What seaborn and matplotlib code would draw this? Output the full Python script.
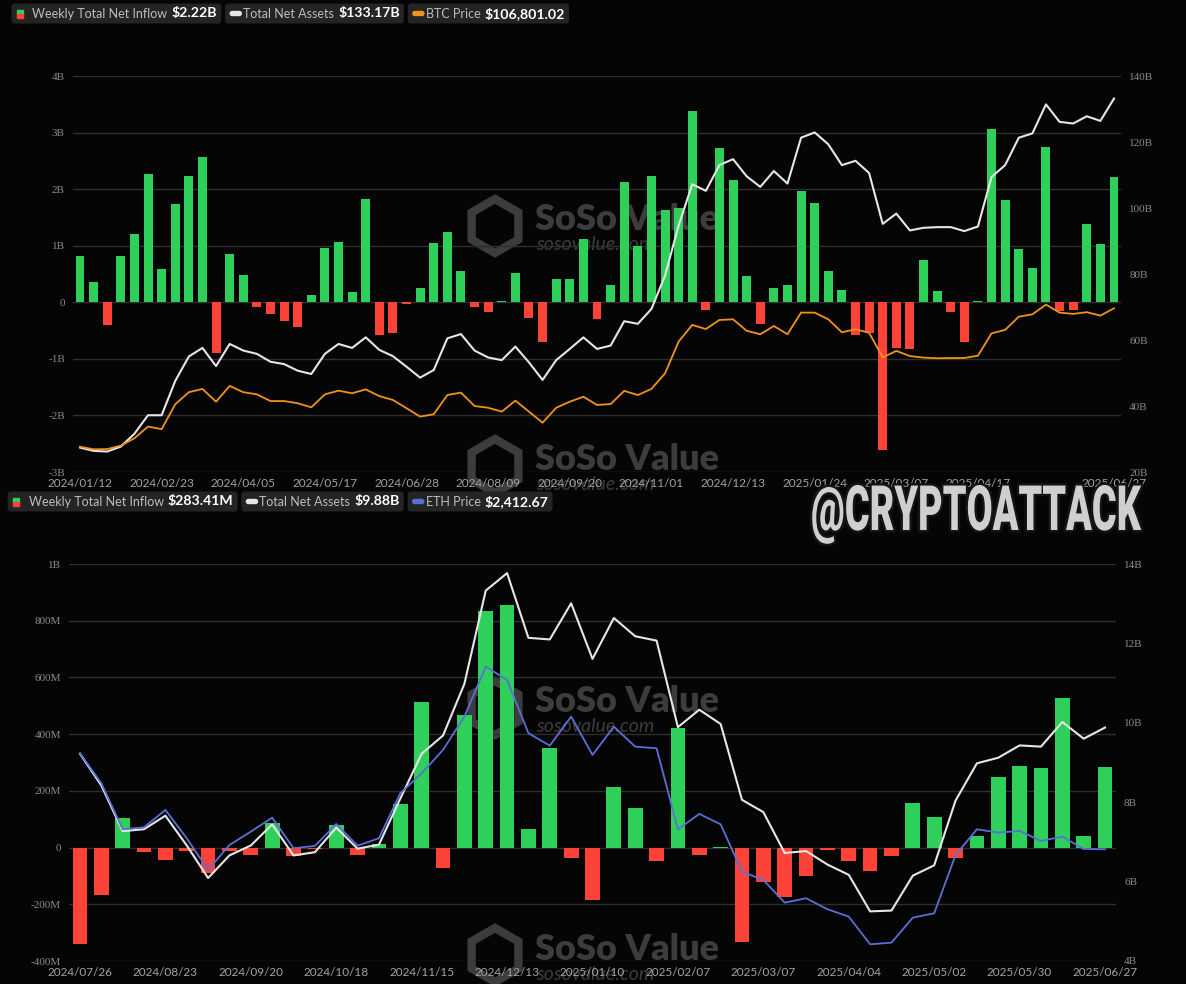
import numpy as np
import pandas as pd
import matplotlib
matplotlib.use("Agg")
import matplotlib.pyplot as plt
import matplotlib.patheffects as pe
from matplotlib.patches import FancyBboxPatch, Rectangle, RegularPolygon
from matplotlib.transforms import IdentityTransform, Affine2D
import seaborn as sns

# ---------------- data ----------------
# BTC spot ETF, weekly (2024/01/12 .. 2025/06/27)
btc_flow = [0.82, 0.35, -0.41, 0.82, 1.20, 2.27, 0.59, 1.73, 2.24, 2.57,
            -0.89, 0.86, 0.49, -0.08, -0.20, -0.33, -0.43, 0.13, 0.96, 1.07,
            0.18, 1.83, -0.58, -0.54, -0.03, 0.25, 1.05, 1.25, 0.55, -0.08,
            -0.17, 0.03, 0.51, -0.27, -0.70, 0.41, 0.41, 1.12, -0.29, 0.31,
            2.13, 1.00, 2.23, 1.63, 1.67, 3.39, -0.14, 2.73, 2.17, 0.46,
            -0.38, 0.25, 0.31, 1.96, 1.76, 0.56, 0.21, -0.58, -0.54, -2.61,
            -0.80, -0.83, 0.75, 0.20, -0.18, -0.70, 0.02, 3.06, 1.80, 0.94,
            0.61, 2.75, -0.16, -0.13, 1.39, 1.03, 2.22]
btc_assets = [27.4, 26.4, 26.2, 27.7, 31.6, 37.2, 37.2, 47.6, 55.0, 57.6,
              52.1, 58.8, 56.8, 55.8, 53.4, 52.7, 50.7, 49.7, 55.8, 58.8,
              57.6, 60.8, 57.0, 55.1, 51.9, 48.6, 50.9, 60.5, 61.8, 56.8,
              54.7, 53.9, 58.0, 53.2, 47.9, 53.9, 57.3, 60.8, 57.3, 58.3,
              65.7, 64.9, 69.4, 79.5, 94.7, 107.2, 105.2, 113.0, 114.8, 109.6,
              106.4, 111.2, 107.4, 121.3, 122.9, 119.3, 113.0, 114.3, 110.6, 95.2,
              98.3, 93.2, 94.0, 94.2, 94.2, 93.0, 94.4, 109.4, 113.0, 121.3,
              122.6, 131.4, 126.1, 125.6, 127.8, 126.4, 133.17]
btc_price = [42800, 41600, 41700, 43300, 46700, 52100, 50900, 62400, 68000, 69500,
             63600, 70900, 68000, 67000, 63900, 63900, 62900, 61000, 67000, 68700,
             67500, 69300, 66200, 64400, 60600, 56700, 57800, 66700, 67800, 61600,
             60800, 59000, 64100, 59000, 53900, 60800, 63600, 65900, 62100, 62500,
             68600, 66700, 69500, 76700, 91400, 99100, 97200, 101400, 101700, 96400,
             94800, 98600, 94800, 104800, 104800, 101700, 95700, 97100, 95500, 84100,
             87100, 84700, 84000, 83700, 83800, 83800, 84900, 95200, 96800, 102900,
             104000, 108500, 104800, 104200, 105000, 103400, 106801.02]

# ETH spot ETF, weekly (2024/07/26 .. 2025/06/27)
eth_flow = [-340, -168, 106, -14, -44, -12, -91, -12, -26, 86,
            -29, -6, 79, -25, 14, 154, 515, -71, 466, 836,
            855, 64, 351, -38, -185, 213, 140, -46, 421, -25,
            2, -334, -120, -176, -102, -8, -49, -81, -31, 156,
            107, -38, 42, 248, 286, 281, 528, 41, 283.41]
eth_assets = [9.22, 8.42, 7.27, 7.32, 7.66, 6.91, 6.09, 6.66, 6.91, 7.44,
              6.66, 6.74, 7.36, 6.83, 6.93, 8.09, 9.22, 9.68, 10.98, 13.33,
              13.77, 12.14, 12.10, 13.01, 11.61, 12.64, 12.18, 12.07, 9.89, 10.33,
              9.97, 8.06, 7.75, 6.72, 6.77, 6.43, 6.17, 5.25, 5.27, 6.15,
              6.41, 8.04, 8.98, 9.12, 9.43, 9.40, 10.02, 9.60, 9.88]
eth_price = [3280, 3009, 2593, 2611, 2768, 2512, 2226, 2451, 2572, 2698,
             2422, 2443, 2641, 2445, 2512, 2919, 3099, 3310, 3611, 4062,
             3942, 3461, 3349, 3611, 3265, 3520, 3340, 3325, 2593, 2732,
             2638, 2210, 2135, 1930, 1970, 1871, 1804, 1554, 1569, 1795,
             1834, 2361, 2593, 2563, 2578, 2488, 2527, 2415, 2412.67]


def weekly_labels(start, n):
    # Friday dates; Good Friday 2025 week is reported on Thursday
    days = pd.date_range(start, periods=n, freq="7D")
    days = [d - pd.Timedelta(days=1) if d == pd.Timestamp("2025-04-18") else d for d in days]
    return [d.strftime("%Y/%m/%d") for d in days]


btc_dates = weekly_labels("2024-01-12", len(btc_flow))
eth_dates = weekly_labels("2024-07-26", len(eth_flow))

# ---------------- style ----------------
W, H = 1186, 984
BG = "#050505"
GREEN = "#2fd05a"
RED = "#fb4437"
WHITE_LINE = "#e6e6e6"
ORANGE = "#f0921e"
BLUE = "#5a6fd8"
GRID = "#2e2e2e"
WM = "#3c3c3c"
IDT = IdentityTransform()

plt.rcParams["font.family"] = ["Lato", "DejaVu Sans"]

fig = plt.figure(figsize=(W / 100, H / 100), dpi=100, facecolor=BG)


def px_axes(l, t, r, b):
    return fig.add_axes([l / W, 1 - b / H, (r - l) / W, (b - t) / H])


def panel(ax, flows, assets, price, dates, tick_idx, ylim, yticks, ylabels,
          rticks, rlabels, plim, pcolor, width):
    n = len(flows)
    df = pd.DataFrame({"pos": np.arange(n), "flow": flows, "assets": assets, "price": price})
    df["sign"] = np.where(df["flow"] >= 0, "in", "out")

    ax.set_facecolor("none")
    sns.barplot(data=df, x="pos", y="flow", hue="sign", palette={"in": GREEN, "out": RED},
                dodge=False, width=width, saturation=1, errorbar=None, legend=False,
                linewidth=0, ax=ax, zorder=2)
    ax.set_ylim(*ylim)
    ax.set_yticks(yticks)
    ax.set_yticklabels(ylabels)
    ax.yaxis.grid(True, color=GRID, lw=1)
    ax.set_axisbelow(True)
    ax.set_xticks(tick_idx)
    ax.set_xticklabels([dates[i] for i in tick_idx])
    ax.set_xlabel("")
    ax.set_ylabel("")
    ax.tick_params(axis="x", length=0, pad=4, labelsize=8.5, labelcolor="#a3a3a3")
    ax.tick_params(axis="y", length=0, pad=6, labelsize=8, labelcolor="#8a8a8a")
    for lab in ax.get_yticklabels():
        lab.set_family("Liberation Serif")

    # total net assets on the right axis
    axr = ax.twinx()
    sns.lineplot(data=df, x="pos", y="assets", color=WHITE_LINE, lw=1.5, ax=axr)
    axr.set_ylim(rticks[0], rticks[-1])
    axr.set_yticks(rticks)
    axr.set_yticklabels(rlabels)
    axr.set_ylabel("")
    axr.tick_params(axis="y", length=0, pad=6, labelsize=8, labelcolor="#8a8a8a")
    for lab in axr.get_yticklabels():
        lab.set_family("Liberation Serif")

    # price on a hidden axis
    axp = ax.twinx()
    sns.lineplot(data=df, x="pos", y="price", color=pcolor, lw=1.3, ax=axp)
    axp.set_ylim(*plim)
    axp.set_axis_off()

    for a in (ax, axr, axp):
        for s in a.spines.values():
            s.set_visible(False)
        a.set_xlim(-0.5, n - 0.5)


# ---------------- watermarks (under the charts) ----------------
def watermark(x, y):
    fig.add_artist(RegularPolygon((x + 25, H - y), 6, radius=27, fill=False, ec=WM, lw=6,
                                  transform=IDT, zorder=-2))
    fig.text(x + 65, H - y + 6, "SoSo Value", transform=IDT, fontsize=26, weight="heavy",
             color=WM, va="center", ha="left", zorder=-1)
    fig.text(x + 66, H - y - 19, "sosovalue.com", transform=IDT, fontsize=14, style="italic",
             color=WM, va="center", ha="left", zorder=-1)


for wx, wy in [(470, 226), (470, 466), (470, 708), (470, 955)]:
    watermark(wx, wy)

# ---------------- BTC panel ----------------
ax1 = px_axes(73.2, 76, 1120.8, 472)
panel(ax1, btc_flow, btc_assets, btc_price, btc_dates,
      list(range(0, 67, 6)) + [len(btc_flow) - 1],
      (-3, 4), list(range(-3, 5)), ["-3B", "-2B", "-1B", "0", "1B", "2B", "3B", "4B"],
      list(range(20, 141, 20)), [f"{v}B" for v in range(20, 141, 20)],
      (31100, 214200), ORANGE, 0.66)

# ---------------- ETH panel ----------------
ax2 = px_axes(69.3, 564, 1115.7, 961)
panel(ax2, eth_flow, eth_assets, eth_price, eth_dates,
      list(range(0, len(eth_flow), 4)),
      (-400, 1000), list(range(-400, 1001, 200)),
      ["-400M", "-200M", "0", "200M", "400M", "600M", "800M", "1B"],
      list(range(4, 15, 2)), [f"{v}B" for v in range(4, 15, 2)],
      (1403, 4990), BLUE, 0.69)

# ---------------- legend chips ----------------
renderer = fig.canvas.get_renderer()


def legend_row(x0, yc, items):
    x = x0
    for kind, color, label, value in items:
        if kind == "bar":
            fig.add_artist(Rectangle((x + 5, H - yc), 6, 4, color=GREEN, transform=IDT, zorder=6))
            fig.add_artist(Rectangle((x + 5, H - yc - 4), 6, 4, color=RED, transform=IDT, zorder=6))
            tx = x + 21
        else:
            fig.add_artist(FancyBboxPatch((x + 5, H - yc - 2), 11, 4,
                                          boxstyle="round,pad=0,rounding_size=2",
                                          color=color, transform=IDT, zorder=6))
            tx = x + 18
        t1 = fig.text(tx, H - yc, label, transform=IDT, fontsize=9, color="#bdbdbd",
                      va="center", ha="left", zorder=6)
        e1 = t1.get_window_extent(renderer)
        t2 = fig.text(e1.x1 + 4, H - yc, value, transform=IDT, fontsize=10.2, weight="bold",
                      color="white", va="center", ha="left", zorder=6)
        e2 = t2.get_window_extent(renderer)
        x1 = e2.x1 + 4
        fig.add_artist(FancyBboxPatch((x, H - yc - 10), x1 - x, 20,
                                      boxstyle="round,pad=0,rounding_size=3",
                                      fc="#242424", ec="none", transform=IDT, zorder=5))
        x = x1 + 4


legend_row(11.5, 13.5, [
    ("bar", None, "Weekly Total Net Inflow", f"${btc_flow[-1]:.2f}B"),
    ("line", WHITE_LINE, "Total Net Assets", f"${btc_assets[-1]:.2f}B"),
    ("line", ORANGE, "BTC Price", f"${btc_price[-1]:,.2f}"),
])
legend_row(7.7, 501.5, [
    ("bar", None, "Weekly Total Net Inflow", f"${eth_flow[-1]:.2f}M"),
    ("line", WHITE_LINE, "Total Net Assets", f"${eth_assets[-1]:.2f}B"),
    ("line", BLUE, "ETH Price", f"${eth_price[-1]:,.2f}"),
])


# ---------------- handle (condensed look via a horizontal squeeze) ----------------
class SqueezeStroke(pe.AbstractPathEffect):
    def __init__(self, sx, cx, lw, fg):
        super().__init__()
        self.sx, self.cx, self.lw, self.fg = sx, cx, lw, fg

    def draw_path(self, renderer, gc, tpath, affine, rgbFace=None):
        aff = affine + Affine2D().translate(-self.cx, 0).scale(self.sx, 1).translate(self.cx, 0)
        gc0 = renderer.new_gc()
        gc0.copy_properties(gc)
        gc0.set_linewidth(self.lw)
        gc0.set_foreground(self.fg)
        renderer.draw_path(gc0, tpath, aff, rgbFace)
        gc0.restore()
        renderer.draw_path(gc, tpath, aff, rgbFace)


HX = 1141
handle = fig.text(HX, H - 530, "@CRYPTOATTACK", transform=IDT, ha="right", va="baseline",
                  fontsize=45, weight="black", family=["Roboto", "DejaVu Sans"],
                  color="#cfcfcf", zorder=7)
hw = handle.get_window_extent(renderer).width
handle.set_path_effects([SqueezeStroke(330.0 / hw, HX, 3.5, "#151515")])

fig.savefig("out.png", dpi=100, facecolor=BG)
